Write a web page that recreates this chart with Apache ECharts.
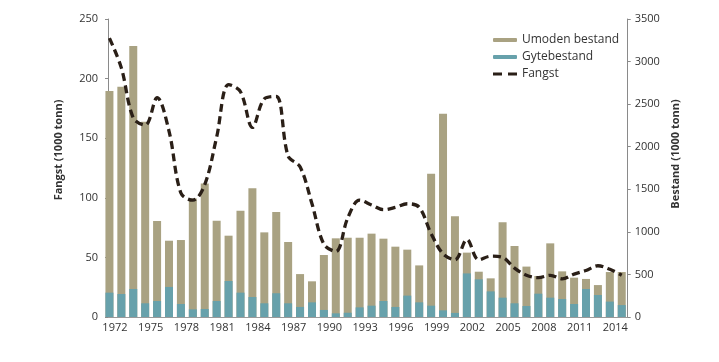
<!DOCTYPE html>
<html>
<head>
<meta charset="utf-8">
<script src="https://cdn.jsdelivr.net/npm/echarts@6/dist/echarts.min.js"></script>
<style>
html,body{margin:0;padding:0;background:#fff;}
#chart{width:719px;height:362px;}
</style>
</head>
<body>
<div id="chart"></div>
<script>
const years = ['1972','1973','1974','1975','1976','1977','1978','1979','1980','1981','1982','1983','1984','1985','1986','1987','1988','1989','1990','1991','1992','1993','1994','1995','1996','1997','1998','1999','2000','2001','2002','2003','2004','2005','2006','2007','2008','2009','2010','2011','2012','2013','2014','2015'];
// Bestand (1000 tonn), right axis
const gytebestand = [286,270,329,161,188,353,153,90,94,188,423,286,235,161,279,161,118,172,83,43,50,113,133,188,118,251,172,133,78,48,512,442,301,227,161,129,274,227,211,153,329,258,181,140];
const umodenBestand = [2368,2435,2853,2132,939,543,751,1303,1474,943,532,963,1276,833,953,720,386,247,645,881,881,818,846,732,708,540,434,1550,2310,1134,244,90,153,885,673,463,208,638,325,309,118,117,347,388];
// Fangst (1000 tonn), left axis
const fangst = [234,209,167,161,184,156,104,98,111,151,195,189,159,183,185,135,126,95,61,55,83,98,94,90,92,95,92,70,53,48,65,48,51,50,41,35,33,35,32,36,39,43,40,35];
// x tick labels: every third year
const yearLabels = ['1972','1975','1978','1981','1984','1987','1990','1993','1996','1999','2002','2005','2008','2011','2014'];
const leftTicks = {min:0, max:250, interval:50};
const rightTicks = {min:0, max:3500, interval:500};

const font = 'Open Sans';
const pairs = arr => arr.map((v, i) => [Number(years[i]), v]);
// stacked top of each bar = gytebestand + umoden bestand
const totalBestand = umodenBestand.map((v, i) => v + gytebestand[i]);
const xMin = Number(years[0]) - 0.12;
const xMax = Number(years[years.length - 1]) + 0.5;

const chart = echarts.init(document.getElementById('chart'));
chart.setOption({
  animation:false,
  textStyle:{fontFamily:font},
  grid:{left:108, right:91.3, top:19, bottom:45},
  legend:{
    orient:'vertical', left:488, top:29, itemWidth:24, itemHeight:4, itemGap:5,
    textStyle:{fontFamily:font, fontSize:12, color:'#333'},
    data:[
      {name:'Umoden bestand'},
      {name:'Gytebestand'},
      {name:'Fangst', icon:'path://M0,0H9V3H0Z M15,0H24V3H15Z'}
    ]
  },
  xAxis:{
    type:'value', min:xMin, max:xMax,
    axisLine:{show:true, lineStyle:{color:'#9a9a9a', width:1}},
    axisTick:{show:false},
    splitLine:{show:false},
    axisLabel:{
      customValues:yearLabels.map(Number),
      formatter:v => String(v),
      color:'#333', fontSize:11, margin:5, padding:[0,0,0,11]
    }
  },
  yAxis:[{
    type:'value', min:leftTicks.min, max:leftTicks.max, interval:leftTicks.interval, position:'left',
    name:'Fangst (1000 tonn)', nameLocation:'middle', nameRotate:90, nameGap:44,
    nameTextStyle:{fontWeight:'bold', fontSize:11, color:'#333', padding:[0,0,0,36]},
    axisLine:{show:true, lineStyle:{color:'#8a8a8a'}},
    axisTick:{show:true, length:3, lineStyle:{color:'#8a8a8a'}},
    axisLabel:{color:'#333', fontSize:11, margin:10},
    splitLine:{show:false}
  },{
    type:'value', min:rightTicks.min, max:rightTicks.max, interval:rightTicks.interval, position:'right',
    name:'Bestand (1000 tonn)', nameLocation:'middle', nameRotate:90, nameGap:42,
    nameTextStyle:{fontWeight:'bold', fontSize:11, color:'#333', padding:[0,0,0,28]},
    axisLine:{show:true, lineStyle:{color:'#8a8a8a'}},
    axisTick:{show:true, length:3, lineStyle:{color:'#8a8a8a'}},
    axisLabel:{color:'#333', fontSize:11, margin:7, formatter:v => String(v)},
    splitLine:{show:false}
  }],
  series:[{
    name:'Umoden bestand', type:'bar', yAxisIndex:1, data:pairs(totalBestand), barWidth:8, barGap:'-100%', clip:true, z:2,
    itemStyle:{color:'#a9a282'}
  },{
    name:'Gytebestand', type:'bar', yAxisIndex:1, data:pairs(gytebestand), barWidth:8, barGap:'-100%', clip:true, z:3,
    itemStyle:{color:'#67a1ab'}
  },{
    name:'Fangst', type:'line', yAxisIndex:0, data:pairs(fangst), smooth:0.35, symbol:'none',
    lineStyle:{color:'#2a1f17', width:3.3, type:[8,4.5]}, itemStyle:{color:'#2a1f17'}, z:5
  }]
});
</script>
</body>
</html>
